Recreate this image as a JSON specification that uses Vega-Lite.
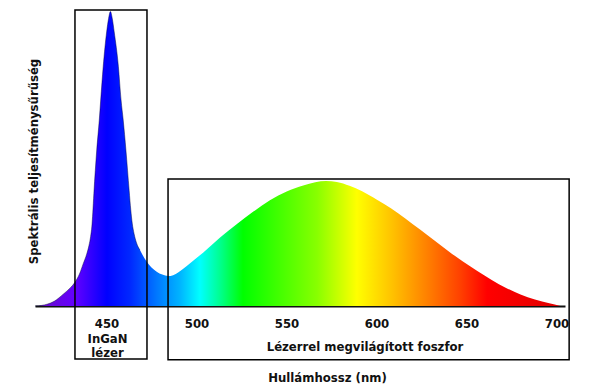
{
  "$schema": "https://vega.github.io/schema/vega-lite/v6.json",
  "width": 530,
  "height": 296,
  "autosize": "none",
  "padding": {"left": 35, "top": 10, "right": 41, "bottom": 83},
  "background": "white",
  "config": {
    "view": {"stroke": null},
    "font": "DejaVu Sans"
  },
  "datasets": {
    "spd": [
      {"nm": 410.3, "p": 0},
      {"nm": 414, "p": 0.002},
      {"nm": 417, "p": 0.006},
      {"nm": 421, "p": 0.016},
      {"nm": 426, "p": 0.040},
      {"nm": 430, "p": 0.062},
      {"nm": 432.5, "p": 0.08},
      {"nm": 435, "p": 0.108},
      {"nm": 437.1, "p": 0.143},
      {"nm": 439, "p": 0.175},
      {"nm": 440.3, "p": 0.205},
      {"nm": 441.2, "p": 0.235},
      {"nm": 441.9, "p": 0.27},
      {"nm": 442.4, "p": 0.315},
      {"nm": 443.0, "p": 0.38},
      {"nm": 444.6, "p": 0.527},
      {"nm": 446, "p": 0.628},
      {"nm": 446.8, "p": 0.696},
      {"nm": 448.2, "p": 0.81},
      {"nm": 450.1, "p": 0.926},
      {"nm": 451.2, "p": 0.972},
      {"nm": 452.2, "p": 0.995},
      {"nm": 453.2, "p": 0.972},
      {"nm": 454.3, "p": 0.926},
      {"nm": 456.6, "p": 0.81},
      {"nm": 458.1, "p": 0.696},
      {"nm": 459.3, "p": 0.628},
      {"nm": 460.8, "p": 0.527},
      {"nm": 462.6, "p": 0.39},
      {"nm": 463.5, "p": 0.325},
      {"nm": 464.3, "p": 0.28},
      {"nm": 465.3, "p": 0.245},
      {"nm": 466.7, "p": 0.213},
      {"nm": 468.6, "p": 0.189},
      {"nm": 472.3, "p": 0.150},
      {"nm": 475, "p": 0.130},
      {"nm": 477.9, "p": 0.116},
      {"nm": 481, "p": 0.106},
      {"nm": 484.3, "p": 0.101},
      {"nm": 487, "p": 0.104},
      {"nm": 490, "p": 0.114},
      {"nm": 494.6, "p": 0.135},
      {"nm": 499, "p": 0.157},
      {"nm": 503.8, "p": 0.181},
      {"nm": 513.1, "p": 0.231},
      {"nm": 522.3, "p": 0.276},
      {"nm": 531.6, "p": 0.319},
      {"nm": 540.8, "p": 0.357},
      {"nm": 550.1, "p": 0.387},
      {"nm": 559.3, "p": 0.407},
      {"nm": 566, "p": 0.418},
      {"nm": 572, "p": 0.422},
      {"nm": 578, "p": 0.419},
      {"nm": 585, "p": 0.406},
      {"nm": 592, "p": 0.388},
      {"nm": 600, "p": 0.360},
      {"nm": 608, "p": 0.330},
      {"nm": 616, "p": 0.296},
      {"nm": 624, "p": 0.259},
      {"nm": 632, "p": 0.222},
      {"nm": 640, "p": 0.185},
      {"nm": 648, "p": 0.150},
      {"nm": 656, "p": 0.118},
      {"nm": 664, "p": 0.088},
      {"nm": 672, "p": 0.061},
      {"nm": 680, "p": 0.039},
      {"nm": 688, "p": 0.022},
      {"nm": 696, "p": 0.009},
      {"nm": 702, "p": 0}
    ]
  },
  "layer": [
    {
      "data": {"name": "spd"},
      "mark": {
        "type": "area",
        "interpolate": "monotone",
        "fill": {
          "gradient": "linear",
          "x1": 0, "y1": 0, "x2": 1, "y2": 0,
          "stops": [
            {"offset": 0, "color": "#6a10c0"},
            {"offset": 0.076, "color": "#6400ff"},
            {"offset": 0.137, "color": "#0000ff"},
            {"offset": 0.181, "color": "#0028ff"},
            {"offset": 0.232, "color": "#0078ff"},
            {"offset": 0.276, "color": "#00b4ff"},
            {"offset": 0.314, "color": "#00ffff"},
            {"offset": 0.352, "color": "#00ff90"},
            {"offset": 0.396, "color": "#00ff00"},
            {"offset": 0.537, "color": "#88ff00"},
            {"offset": 0.613, "color": "#ffff00"},
            {"offset": 0.682, "color": "#ffc000"},
            {"offset": 0.747, "color": "#ff8000"},
            {"offset": 0.81, "color": "#ff4000"},
            {"offset": 0.861, "color": "#ff0000"},
            {"offset": 1, "color": "#e00000"}
          ]
        }
      },
      "encoding": {
        "x": {
          "field": "nm",
          "type": "quantitative",
          "scale": {"domain": [410.3, 704.7], "nice": false, "zero": false},
          "axis": {
            "values": [450, 500, 550, 600, 650, 700],
            "grid": false,
            "ticks": false,
            "domainColor": "#111111",
            "domainWidth": 2,
            "labelFont": "DejaVu Sans",
            "labelFontWeight": "bold",
            "labelFontSize": 11.7,
            "labelColor": "#111111",
            "labelPadding": 17,
            "labelBaseline": "middle",
            "title": "Hullámhossz (nm)",
            "titleFont": "DejaVu Sans",
            "titleFontWeight": "bold",
            "titleFontSize": 11.7,
            "titleColor": "#111111",
            "titleX": 292,
            "titleY": 71,
            "titleAlign": "center",
            "titleBaseline": "middle"
          }
        },
        "y": {
          "field": "p",
          "type": "quantitative",
          "scale": {"domain": [0, 1], "nice": false},
          "axis": {
            "domain": false,
            "ticks": false,
            "labels": false,
            "grid": false,
            "title": "Spektrális teljesítménysűrűség",
            "titleFont": "DejaVu Sans",
            "titleFontWeight": "bold",
            "titleFontSize": 11.7,
            "titleColor": "#111111",
            "titleX": -2,
            "titleY": 151,
            "titleAngle": -90,
            "titleAlign": "center",
            "titleBaseline": "middle"
          }
        }
      }
    },
    {
      "data": {"name": "spd"},
      "transform": [{"filter": "datum.nm <= 470"}],
      "mark": {"type": "line", "interpolate": "monotone", "stroke": "#000040", "strokeWidth": 1, "opacity": 0.45},
      "encoding": {
        "x": {"field": "nm", "type": "quantitative"},
        "y": {"field": "p", "type": "quantitative"}
      }
    },
    {
      "data": {
        "values": [
          {"x1": 432.5, "x2": 472.5, "y1": 1.0, "y2": -0.179},
          {"x1": 484.2, "x2": 707.0, "y1": 0.429, "y2": -0.182}
        ]
      },
      "mark": {"type": "rect", "fill": null, "stroke": "#000000", "strokeWidth": 1.5, "clip": false},
      "encoding": {
        "x": {"field": "x1", "type": "quantitative"},
        "x2": {"field": "x2"},
        "y": {"field": "y1", "type": "quantitative"},
        "y2": {"field": "y2"}
      }
    },
    {
      "data": {
        "values": [
          {"t": "InGaN", "x": 450.6, "y": -0.111},
          {"t": "lézer", "x": 450.6, "y": -0.159},
          {"t": "Lézerrel megvilágított foszfor", "x": 593.6, "y": -0.139}
        ]
      },
      "mark": {
        "type": "text",
        "font": "DejaVu Sans",
        "fontWeight": "bold",
        "fontSize": 11.7,
        "color": "#111111",
        "align": "center",
        "baseline": "middle",
        "clip": false
      },
      "encoding": {
        "x": {"field": "x", "type": "quantitative"},
        "y": {"field": "y", "type": "quantitative"},
        "text": {"field": "t"}
      }
    }
  ]
}
